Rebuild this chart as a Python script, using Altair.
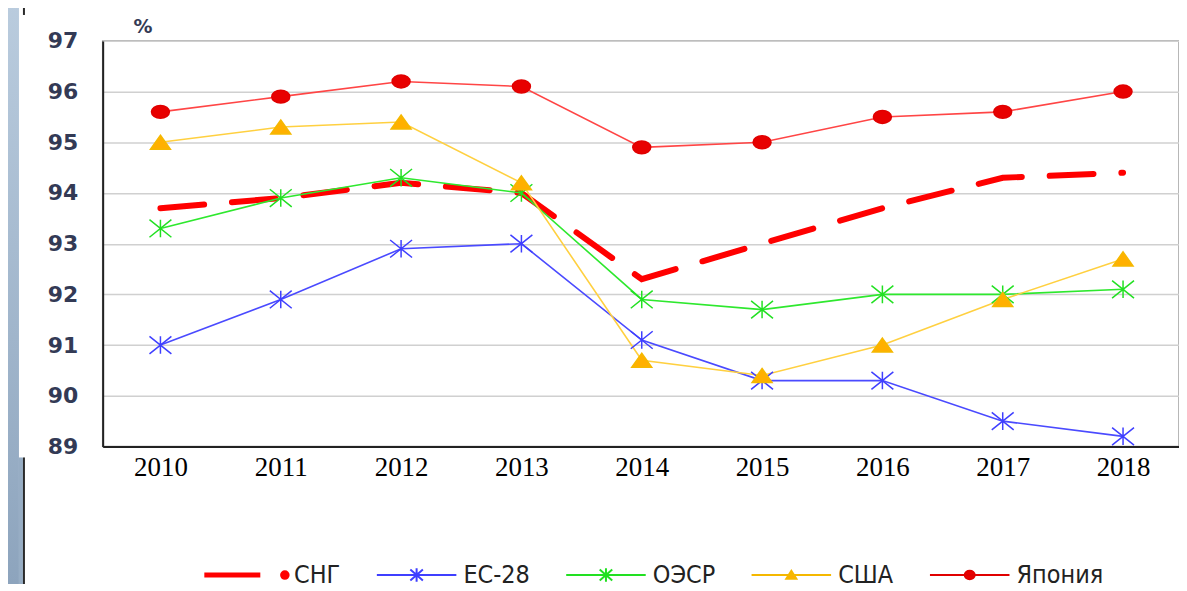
import altair as alt
import pandas as pd

# ---- data ----
years = [2010, 2011, 2012, 2013, 2014, 2015, 2016, 2017, 2018]
series_names = ["СНГ", "ЕС-28", "ОЭСР", "США", "Япония"]
cis = [93.7, 93.9, 94.2, 94.0, 92.3, 93.0, 93.7, 94.3, 94.4]
eu28 = [91.0, 91.9, 92.9, 93.0, 91.1, 90.3, 90.3, 89.5, 89.2]
oecd = [93.3, 93.9, 94.3, 94.0, 91.9, 91.7, 92.0, 92.0, 92.1]
usa = [95.0, 95.3, 95.4, 94.2, 90.7, 90.4, 91.0, 91.9, 92.7]
japan = [95.6, 95.9, 96.2, 96.1, 94.9, 95.0, 95.5, 95.6, 96.0]
y_ticks = [89, 90, 91, 92, 93, 94, 95, 96, 97]

rows = []
for name, vals in zip(series_names, [cis, eu28, oecd, usa, japan]):
    for yr, v in zip(years, vals):
        rows.append({"year": yr, "value": v, "series": name})
df = pd.DataFrame(rows)

# ---- styles ----
line_colors = ["#FF0000", "#4A4AFF", "#2EE82E", "#FFD040", "#FF4545"]
marker_fill = ["#FF0000", "#3535FF", "#22DD22", "#FFB000", "#E80000"]
marker_stroke = ["#FF0000", "#3F3FFF", "#22E022", "#F5B800", "#E00000"]

STAR = "M0,-0.8V0.8M-1,-0.8L1,0.8M-1,0.8L1,-0.8"
TRI = "M0,-0.64L0.91,0.64L-0.91,0.64Z"
ELL = "M-0.82,0A0.82,0.59,0,1,1,0.82,0A0.82,0.59,0,1,1,-0.82,0Z"
chart_shapes = ["circle", STAR, STAR, TRI, ELL]

LG_CIS = ("M-1,-0.035H0.29V0.035H-1Z"
          "M0.81,0A0.09,0.09,0,1,1,0.99,0A0.09,0.09,0,1,1,0.81,0Z")
LG_STAR = ("M-0.95,0H0.95M0,-0.16V0.16M-0.15,-0.13L0.15,0.13"
           "M-0.15,0.13L0.15,-0.13")
LG_TRI = "M-0.95,0H0.95M0,-0.1L0.12,0.09H-0.12Z"
LG_DOT = "M-0.95,0H0.95M-0.12,0A0.12,0.1,0,1,1,0.12,0A0.12,0.1,0,1,1,-0.12,0Z"
legend_shapes = [LG_CIS, LG_STAR, LG_STAR, LG_TRI, LG_DOT]

NAVY = "#333A55"

x_enc = alt.X(
    "year:Q",
    scale=alt.Scale(domain=[2009.52, 2018.465], nice=False, zero=False),
    axis=alt.Axis(values=years, format="d", title=None, grid=False, ticks=False,
                  labelFont="Liberation Serif", labelFontSize=27, labelColor="#000000",
                  labelPadding=8, domainColor="#222222", domainWidth=2),
)
y_enc = alt.Y(
    "value:Q",
    scale=alt.Scale(domain=[89, 97], nice=False, zero=False),
    axis=alt.Axis(values=y_ticks, title="%", titleAngle=0, titleX=40, titleY=-14,
                  titleAlign="center", titleBaseline="middle", titleFont="DejaVu Sans",
                  titleFontSize=19, titleFontWeight="bold", titleColor=NAVY,
                  labelFont="DejaVu Sans", labelFontWeight="bold", labelFontSize=22,
                  labelColor=NAVY, labelPadding=25, ticks=False,
                  gridColor="#D0D0D0", gridWidth=1.5,
                  domainColor="#222222", domainWidth=2),
)

color_scale = alt.Scale(domain=series_names, range=line_colors)

cis_line = alt.Chart(df).transform_filter(alt.datum.series == "СНГ").mark_line(
    strokeWidth=6, strokeDash=[44, 28], strokeCap="round"
).encode(x=x_enc, y=y_enc, color=alt.Color("series:N", scale=color_scale, legend=None))

other_lines = alt.Chart(df).transform_filter(alt.datum.series != "СНГ").mark_line(
    strokeWidth=1.6
).encode(x=x_enc, y=y_enc, color=alt.Color("series:N", scale=color_scale, legend=None))

points = alt.Chart(df).transform_filter(alt.datum.series != "СНГ").mark_point(
    filled=True, strokeWidth=1.5, size=484, opacity=1
).encode(
    x=x_enc, y=y_enc,
    shape=alt.Shape("series:N", scale=alt.Scale(domain=series_names, range=chart_shapes), legend=None),
    fill=alt.Fill("series:N", scale=alt.Scale(domain=series_names, range=marker_fill), legend=None),
    stroke=alt.Stroke("series:N", scale=alt.Scale(domain=series_names, range=marker_stroke), legend=None),
)

leg = alt.Legend(
    title=None, orient="none", legendX=102, legendY=493, direction="horizontal",
    symbolSize=7056, symbolStrokeWidth=2,
    labelFont="DejaVu Sans Condensed, Liberation Sans, sans-serif",
    labelFontSize=25, labelColor="#222222", labelOffset=4, columnPadding=32,
    padding=0, labelLimit=300,
)
legend_layer = alt.Chart(df).transform_filter("false").mark_point(
    filled=True, strokeWidth=2, opacity=1
).encode(
    x=x_enc, y=y_enc,
    shape=alt.Shape("series:N", scale=alt.Scale(domain=series_names, range=legend_shapes), legend=leg),
    fill=alt.Fill("series:N", scale=alt.Scale(domain=series_names, range=marker_fill), legend=leg),
    stroke=alt.Stroke("series:N", scale=alt.Scale(domain=series_names, range=marker_stroke), legend=leg),
)

# ---- slide decoration at the left edge ----
deco_df = pd.DataFrame({"d": [0]})
strip = alt.Chart(deco_df).mark_rect(
    color=alt.Gradient(gradient="linear",
                       stops=[alt.GradientStop(color="#BACCDE", offset=0),
                              alt.GradientStop(color="#8DA4BD", offset=1)],
                       x1=0, x2=0, y1=0, y2=1)
).encode(x=alt.value(-95), x2=alt.value(-84), y=alt.value(-40), y2=alt.value(545))
strip2 = alt.Chart(deco_df).mark_rect(color="#97ADC4").encode(
    x=alt.value(-84), x2=alt.value(-80), y=alt.value(418), y2=alt.value(545))
dark_line = alt.Chart(deco_df).mark_rule(color="#2A2A2A", strokeWidth=2).encode(
    x=alt.value(-79), y=alt.value(418), y2=alt.value(545))
dark_tick = alt.Chart(deco_df).mark_rule(color="#2A2A2A", strokeWidth=2).encode(
    x=alt.value(-79), y=alt.value(-36), y2=alt.value(-26))

chart = alt.layer(
    strip, strip2, dark_line, dark_tick, cis_line, other_lines, points, legend_layer
).resolve_scale(
    shape="independent", fill="independent", stroke="independent"
).properties(
    width=1080, height=407, autosize="none",
    padding={"left": 95, "top": 32, "right": 0, "bottom": 141},
    background="white",
).configure_view(stroke="#A0A0A0", strokeWidth=1.5)

chart.save("out.html", embed_options={"renderer": "svg", "actions": False})
